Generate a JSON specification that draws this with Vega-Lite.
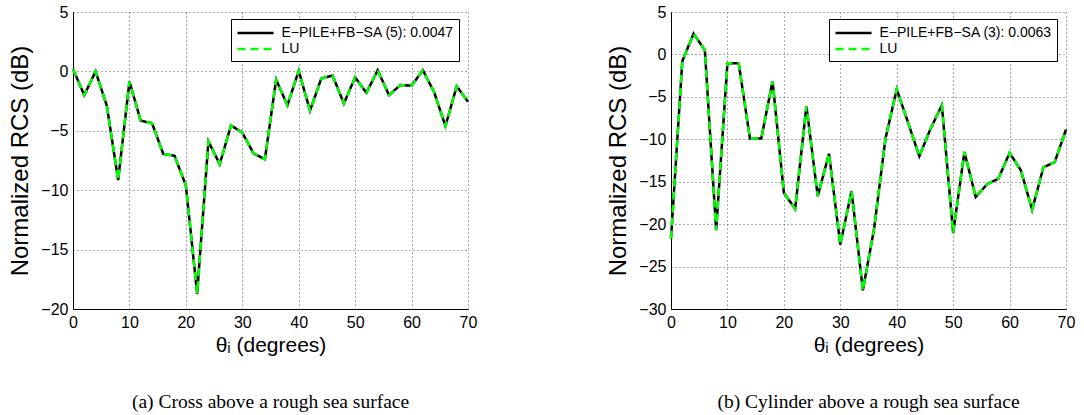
{
  "$schema": "https://vega.github.io/schema/vega-lite/v6.json",
  "padding": {"left": 8, "top": 4, "right": 5, "bottom": 0},
  "background": "white",
  "spacing": 203,
  "bounds": "flush",
  "config": {
    "view": {"stroke": null},
    "axis": {
      "domainColor": "black",
      "domainWidth": 1,
      "ticks": false,
      "grid": true,
      "gridColor": "#555555",
      "gridDash": [1, 3],
      "gridWidth": 1,
      "labelFont": "Liberation Sans, Arial, sans-serif",
      "labelFontSize": 16,
      "labelColor": "black",
      "labelFlush": false,
      "labelOverlap": false,
      "titleFontWeight": "normal",
      "titleColor": "black"
    },
    "axisX": {
      "titleFont": "Liberation Sans, Arial, sans-serif",
      "titleFontSize": 21,
      "titlePadding": 4,
      "labelPadding": 5
    },
    "axisY": {
      "titleFont": "Liberation Sans, Arial, sans-serif",
      "titleFontSize": 24,
      "titlePadding": 8,
      "labelPadding": 5
    },
    "title": {
      "font": "Liberation Serif, serif",
      "fontSize": 19.5,
      "fontWeight": "normal",
      "color": "black",
      "orient": "bottom",
      "anchor": "middle",
      "offset": 38
    },
    "legend": {
      "orient": "none",
      "legendX": 158,
      "legendY": 7,
      "symbolType": "M-2.4,0L2.4,0",
      "symbolSize": 225,
      "symbolOffset": 10.5,
      "symbolStrokeWidth": 2.5,
      "strokeColor": "black",
      "fillColor": "white",
      "padding": 5,
      "rowPadding": 0,
      "labelOffset": 17,
      "labelLimit": 400,
      "labelFont": "Liberation Sans, Arial, sans-serif",
      "labelFontSize": 14,
      "labelColor": "black",
      "cornerRadius": 0
    }
  },
  "datasets": {
    "cross": [
      {"theta": 0, "epile": 0.2, "lu": 0.2},
      {"theta": 2, "epile": -2.0, "lu": -2.0},
      {"theta": 4, "epile": 0.0, "lu": 0.0},
      {"theta": 6, "epile": -2.9, "lu": -2.9},
      {"theta": 8, "epile": -9.15, "lu": -9.15},
      {"theta": 10, "epile": -0.85, "lu": -0.85},
      {"theta": 12, "epile": -4.15, "lu": -4.15},
      {"theta": 14, "epile": -4.35, "lu": -4.35},
      {"theta": 16, "epile": -6.95, "lu": -6.95},
      {"theta": 18, "epile": -7.1, "lu": -7.1},
      {"theta": 20, "epile": -9.6, "lu": -9.6},
      {"theta": 22, "epile": -18.7, "lu": -18.7},
      {"theta": 24, "epile": -5.9, "lu": -5.9},
      {"theta": 26, "epile": -7.8, "lu": -7.8},
      {"theta": 28, "epile": -4.55, "lu": -4.55},
      {"theta": 30, "epile": -5.15, "lu": -5.15},
      {"theta": 32, "epile": -6.9, "lu": -6.9},
      {"theta": 34, "epile": -7.4, "lu": -7.4},
      {"theta": 36, "epile": -0.7, "lu": -0.7},
      {"theta": 38, "epile": -2.85, "lu": -2.85},
      {"theta": 40, "epile": 0.05, "lu": 0.05},
      {"theta": 42, "epile": -3.3, "lu": -3.3},
      {"theta": 44, "epile": -0.6, "lu": -0.6},
      {"theta": 46, "epile": -0.35, "lu": -0.35},
      {"theta": 48, "epile": -2.7, "lu": -2.7},
      {"theta": 50, "epile": -0.5, "lu": -0.5},
      {"theta": 52, "epile": -1.8, "lu": -1.8},
      {"theta": 54, "epile": 0.1, "lu": 0.1},
      {"theta": 56, "epile": -2.0, "lu": -2.0},
      {"theta": 58, "epile": -1.15, "lu": -1.15},
      {"theta": 60, "epile": -1.2, "lu": -1.2},
      {"theta": 62, "epile": 0.1, "lu": 0.1},
      {"theta": 64, "epile": -1.75, "lu": -1.75},
      {"theta": 66, "epile": -4.6, "lu": -4.6},
      {"theta": 68, "epile": -1.25, "lu": -1.25},
      {"theta": 70, "epile": -2.55, "lu": -2.55}
    ],
    "cylinder": [
      {"theta": 0, "epile": -21.7, "lu": -21.7},
      {"theta": 2, "epile": -0.8, "lu": -0.8},
      {"theta": 4, "epile": 2.45, "lu": 2.45},
      {"theta": 6, "epile": 0.5, "lu": 0.5},
      {"theta": 8, "epile": -20.7, "lu": -20.7},
      {"theta": 10, "epile": -1.05, "lu": -1.05},
      {"theta": 12, "epile": -1.05, "lu": -1.05},
      {"theta": 14, "epile": -9.95, "lu": -9.95},
      {"theta": 16, "epile": -9.9, "lu": -9.9},
      {"theta": 18, "epile": -3.15, "lu": -3.15},
      {"theta": 20, "epile": -16.3, "lu": -16.3},
      {"theta": 22, "epile": -18.2, "lu": -18.2},
      {"theta": 24, "epile": -6.1, "lu": -6.1},
      {"theta": 26, "epile": -16.7, "lu": -16.7},
      {"theta": 28, "epile": -11.7, "lu": -11.7},
      {"theta": 30, "epile": -22.4, "lu": -22.4},
      {"theta": 32, "epile": -16.1, "lu": -16.1},
      {"theta": 34, "epile": -27.8, "lu": -27.8},
      {"theta": 36, "epile": -20.5, "lu": -20.5},
      {"theta": 38, "epile": -9.95, "lu": -9.95},
      {"theta": 40, "epile": -4.1, "lu": -4.1},
      {"theta": 42, "epile": -8.0, "lu": -8.0},
      {"theta": 44, "epile": -12.0, "lu": -12.0},
      {"theta": 46, "epile": -8.75, "lu": -8.75},
      {"theta": 48, "epile": -6.0, "lu": -6.0},
      {"theta": 50, "epile": -21.05, "lu": -21.05},
      {"theta": 52, "epile": -11.5, "lu": -11.5},
      {"theta": 54, "epile": -16.8, "lu": -16.8},
      {"theta": 56, "epile": -15.3, "lu": -15.3},
      {"theta": 58, "epile": -14.65, "lu": -14.65},
      {"theta": 60, "epile": -11.6, "lu": -11.6},
      {"theta": 62, "epile": -13.65, "lu": -13.65},
      {"theta": 64, "epile": -18.3, "lu": -18.3},
      {"theta": 66, "epile": -13.3, "lu": -13.3},
      {"theta": 68, "epile": -12.7, "lu": -12.7},
      {"theta": 70, "epile": -8.85, "lu": -8.85}
    ]
  },
  "resolve": {"scale": {"color": "independent", "strokeDash": "independent"}, "legend": {"color": "independent", "strokeDash": "independent"}},
  "hconcat": [
    {
      "width": 395,
      "height": 297,
      "data": {"name": "cross"},
      "transform": [{"fold": ["epile", "lu"], "as": ["series", "rcs"]}],
      "title": {"text": "(a) Cross above a rough sea surface"},
      "mark": {"type": "line", "strokeWidth": 2.5},
      "encoding": {
        "x": {"field": "theta", "type": "quantitative", "scale": {"domain": [0, 70], "nice": false}, "axis": {"title": "θᵢ (degrees)", "values": [0, 10, 20, 30, 40, 50, 60, 70]}},
        "y": {"field": "rcs", "type": "quantitative", "scale": {"domain": [-20, 5], "nice": false, "zero": false}, "axis": {"title": "Normalized RCS (dB)", "values": [-20, -15, -10, -5, 0, 5]}},
        "color": {"field": "series", "type": "nominal", "scale": {"domain": ["epile", "lu"], "range": ["#000000", "#00ff00"]}, "legend": {"title": null, "labelExpr": "datum.label == 'epile' ? 'E−PILE+FB−SA (5): 0.0047' : 'LU'"}},
        "strokeDash": {"field": "series", "type": "nominal", "scale": {"domain": ["epile", "lu"], "range": [[1, 0], [8, 5]]}, "legend": {"title": null, "labelExpr": "datum.label == 'epile' ? 'E−PILE+FB−SA (5): 0.0047' : 'LU'"}}
      }
    },
    {
      "width": 395,
      "height": 297,
      "data": {"name": "cylinder"},
      "transform": [{"fold": ["epile", "lu"], "as": ["series", "rcs"]}],
      "title": {"text": "(b) Cylinder above a rough sea surface"},
      "mark": {"type": "line", "strokeWidth": 2.5},
      "encoding": {
        "x": {"field": "theta", "type": "quantitative", "scale": {"domain": [0, 70], "nice": false}, "axis": {"title": "θᵢ (degrees)", "values": [0, 10, 20, 30, 40, 50, 60, 70]}},
        "y": {"field": "rcs", "type": "quantitative", "scale": {"domain": [-30, 5], "nice": false, "zero": false}, "axis": {"title": "Normalized RCS (dB)", "values": [-30, -25, -20, -15, -10, -5, 0, 5]}},
        "color": {"field": "series", "type": "nominal", "scale": {"domain": ["epile", "lu"], "range": ["#000000", "#00ff00"]}, "legend": {"title": null, "labelExpr": "datum.label == 'epile' ? 'E−PILE+FB−SA (3): 0.0063' : 'LU'"}},
        "strokeDash": {"field": "series", "type": "nominal", "scale": {"domain": ["epile", "lu"], "range": [[1, 0], [8, 5]]}, "legend": {"title": null, "labelExpr": "datum.label == 'epile' ? 'E−PILE+FB−SA (3): 0.0063' : 'LU'"}}
      }
    }
  ]
}
